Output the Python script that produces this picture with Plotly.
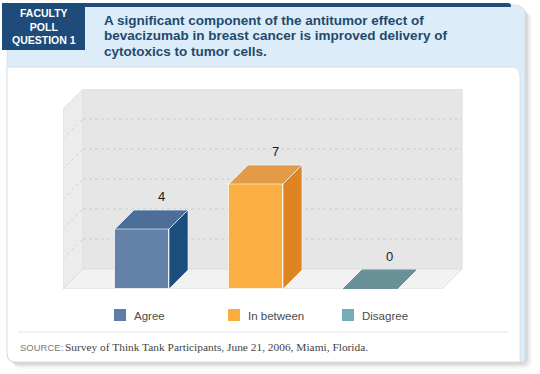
import plotly.graph_objects as go

# ---------------- data ----------------
categories = ["Agree", "In between", "Disagree"]
values = [4, 7, 0]
grid_values = [2, 4, 6, 8, 10]
axis_max = 12

title_lines = [
    "A significant component of the antitumor effect of",
    "bevacizumab in breast cancer is improved delivery of",
    "cytotoxics to tumor cells.",
]
badge_text = "FACULTY<br>POLL<br>QUESTION 1"
source_label = "SOURCE:"
source_text = "Survey of Think Tank Participants, June 21, 2006, Miami, Florida."

# ---------------- styles ----------------
front_colors = ["#6481a9", "#fbae41", "#6f9aa0"]
top_colors = ["#4b6f98", "#e49b47", "#6a9197"]
side_colors = ["#1b4e7d", "#de8420", "#4f7a80"]
legend_colors = ["#5f7ca6", "#fcad3e", "#73adb5"]

SANS = "Liberation Sans, Arial, sans-serif"
SERIF = "Liberation Serif, Times New Roman, serif"

W, H = 540, 374
L, R, T, B = 63, 77, 89, 85
PW = W - L - R
PH = H - T - B

# data-space geometry (x: 1 unit = 114 px, y: 1 unit = 15 px)
XPX = 114.0
YPX = 15.0
x_lo = 1 - (256 - L) / XPX
x_hi = 1 + (W - R - 256) / XPX
y_hi = PH / YPX
bar_w = 54 / XPX
dxb, dyb = 19 / XPX, 19 / YPX
dxw, dyw = 20 / XPX, 20 / YPX
wall_l = x_lo
wall_r = 1 + (442 - 256) / XPX


def px(p):
    return (p - L) / PW


def py(p):
    return (H - B - p) / PH


def rrect(x0, y0, x1, y1, r_tl=0, r_tr=0, r_br=0, r_bl=0):
    s = f"M{px(x0 + r_tl)},{py(y0)} L{px(x1 - r_tr)},{py(y0)} "
    s += f"Q{px(x1)},{py(y0)} {px(x1)},{py(y0 + r_tr)} "
    s += f"L{px(x1)},{py(y1 - r_br)} Q{px(x1)},{py(y1)} {px(x1 - r_br)},{py(y1)} "
    s += f"L{px(x0 + r_bl)},{py(y1)} Q{px(x0)},{py(y1)} {px(x0)},{py(y1 - r_bl)} "
    s += f"L{px(x0)},{py(y0 + r_tl)} Q{px(x0)},{py(y0)} {px(x0 + r_tl)},{py(y0)} Z"
    return s


def poly(points):
    return "M" + " L".join(f"{x},{y}" for x, y in points) + " Z"


shapes = []
# soft shadow
for off, op in [(7, 0.03), (5, 0.05), (3, 0.07)]:
    shapes.append(dict(type="path", xref="paper", yref="paper", layer="below",
                       path=rrect(7 + off, 5 + off, 525 + off, 362 + off, 8, 10, 8, 8),
                       fillcolor=f"rgba(0,0,0,{op})", line=dict(width=0)))
# light blue panel
shapes.append(dict(type="path", xref="paper", yref="paper", layer="below",
                   path=rrect(7, 5, 525, 362, 0, 10, 2, 8),
                   fillcolor="#dcedf9", line=dict(color="#c9d6df", width=0.6)))
# white content panel
shapes.append(dict(type="path", xref="paper", yref="paper", layer="below",
                   path=rrect(7, 67, 520, 362, 0, 9, 0, 9),
                   fillcolor="#ffffff", line=dict(color="#d3d9de", width=0.8)))
# dark top line + badge
shapes.append(dict(type="path", xref="paper", yref="paper", layer="below",
                   path=rrect(80, 3, 511, 7, 0, 3, 0, 0),
                   fillcolor="#1f4d7c", line=dict(width=0)))
shapes.append(dict(type="rect", xref="paper", yref="paper", layer="below",
                   x0=px(2), x1=px(85), y0=py(3), y1=py(50),
                   fillcolor="#1e4b7a", line=dict(width=0)))
# divider
shapes.append(dict(type="line", xref="paper", yref="paper", layer="below",
                   x0=px(18), x1=px(508), y0=py(332), y1=py(332),
                   line=dict(color="#e2e2e2", width=1)))

# 3D walls
shapes.append(dict(type="path", xref="x", yref="y", layer="below",
                   path=poly([(wall_l + dxw, dyw), (wall_r + dxw, dyw),
                              (wall_r + dxw, axis_max + dyw), (wall_l + dxw, axis_max + dyw)]),
                   fillcolor="#e6e6e6", line=dict(color="#dcdcdc", width=1)))
shapes.append(dict(type="path", xref="x", yref="y", layer="below",
                   path=poly([(wall_l, 0), (wall_l, axis_max),
                              (wall_l + dxw, axis_max + dyw), (wall_l + dxw, dyw)]),
                   fillcolor="#ececec", line=dict(color="#e0e0e0", width=1)))
shapes.append(dict(type="path", xref="x", yref="y", layer="below",
                   path=poly([(wall_l, 0), (wall_r, 0), (wall_r + dxw, dyw), (wall_l + dxw, dyw)]),
                   fillcolor="#f2f2f2", line=dict(color="#dedede", width=1)))
for v in grid_values:
    shapes.append(dict(type="line", xref="x", yref="y", layer="below",
                       x0=wall_l + dxw, x1=wall_r + dxw, y0=v + dyw, y1=v + dyw,
                       line=dict(color="#cccccc", width=1, dash="dot")))
    shapes.append(dict(type="line", xref="x", yref="y", layer="below",
                       x0=wall_l, x1=wall_l + dxw, y0=v, y1=v + dyw,
                       line=dict(color="#d2d2d2", width=1, dash="dot")))

idx = list(range(len(categories)))

fig = go.Figure()
fig.add_trace(go.Bar(x=idx, y=values, width=bar_w,
                     marker=dict(color=front_colors, line=dict(color="rgba(255,255,255,0.7)", width=1)),
                     showlegend=False, hoverinfo="skip"))

for i, v in zip(idx, values):
    xl, xr = i - bar_w / 2, i + bar_w / 2
    if v > 0:
        fig.add_trace(go.Scatter(
            x=[xr, xr, xr + dxb, xr + dxb, xr], y=[0, v, v + dyb, dyb, 0],
            fill="toself", fillcolor=side_colors[i], mode="lines",
            line=dict(color="rgba(255,255,255,0.6)", width=1),
            showlegend=False, hoverinfo="skip"))
    fig.add_trace(go.Scatter(
        x=[xl, xr, xr + dxb, xl + dxb, xl], y=[v, v, v + dyb, v + dyb, v],
        fill="toself", fillcolor=top_colors[i], mode="lines",
        line=dict(color="rgba(255,255,255,0.6)" if v > 0 else top_colors[i], width=1),
        showlegend=False, hoverinfo="skip"))

annotations = []
for i, v in zip(idx, values):
    annotations.append(dict(x=i + dxb, y=v + dyb, xref="x", yref="y", text=str(v),
                            showarrow=False, yanchor="bottom", yshift=4,
                            font=dict(family=SANS, size=13, color="#1a1a1a")))

# legend
for i, c in enumerate(categories):
    x0 = i - 28 / XPX
    shapes.append(dict(type="rect", xref="x", yref="paper",
                       x0=x0, x1=x0 + 12 / XPX, y0=py(321), y1=py(309),
                       fillcolor=legend_colors[i], line=dict(width=0)))
    annotations.append(dict(x=x0 + 18 / XPX, y=py(316), xref="x", yref="paper", text=c,
                            showarrow=False, xanchor="left", yanchor="middle",
                            font=dict(family=SANS, size=11.5, color="#4a4a4a")))

# header texts
annotations.append(dict(x=px(43.5), y=py(26.5), xref="paper", yref="paper", text=badge_text,
                        showarrow=False, xanchor="center", yanchor="middle", align="center",
                        font=dict(family=SANS, size=10.5, color="#ffffff", weight="bold")))
for k, line in enumerate(title_lines):
    annotations.append(dict(x=px(102), y=py(20 + 15.5 * k), xref="paper", yref="paper",
                            text=line, showarrow=False, xanchor="left", yanchor="middle",
                            font=dict(family=SANS, size=13.5, color="#1f4a6e", weight="bold")))

# source
annotations.append(dict(x=px(18), y=py(347), xref="paper", yref="paper", text=source_label,
                        showarrow=False, xanchor="left", yanchor="middle",
                        font=dict(family=SANS, size=9.5, color="#7a7a7a")))
annotations.append(dict(x=px(63), y=py(347), xref="paper", yref="paper", text=source_text,
                        showarrow=False, xanchor="left", yanchor="middle",
                        font=dict(family=SERIF, size=11.4, color="#444444")))

fig.update_layout(
    width=W, height=H,
    margin=dict(l=L, r=R, t=T, b=B, pad=0),
    paper_bgcolor="#ffffff", plot_bgcolor="rgba(0,0,0,0)",
    xaxis=dict(range=[x_lo, x_hi], visible=False, fixedrange=True),
    yaxis=dict(range=[0, y_hi], visible=False, fixedrange=True),
    shapes=shapes, annotations=annotations,
    bargap=0, showlegend=False,
)

fig.write_html("out.html", config={"displayModeBar": False},
               post_script="document.body.style.margin='0';")
